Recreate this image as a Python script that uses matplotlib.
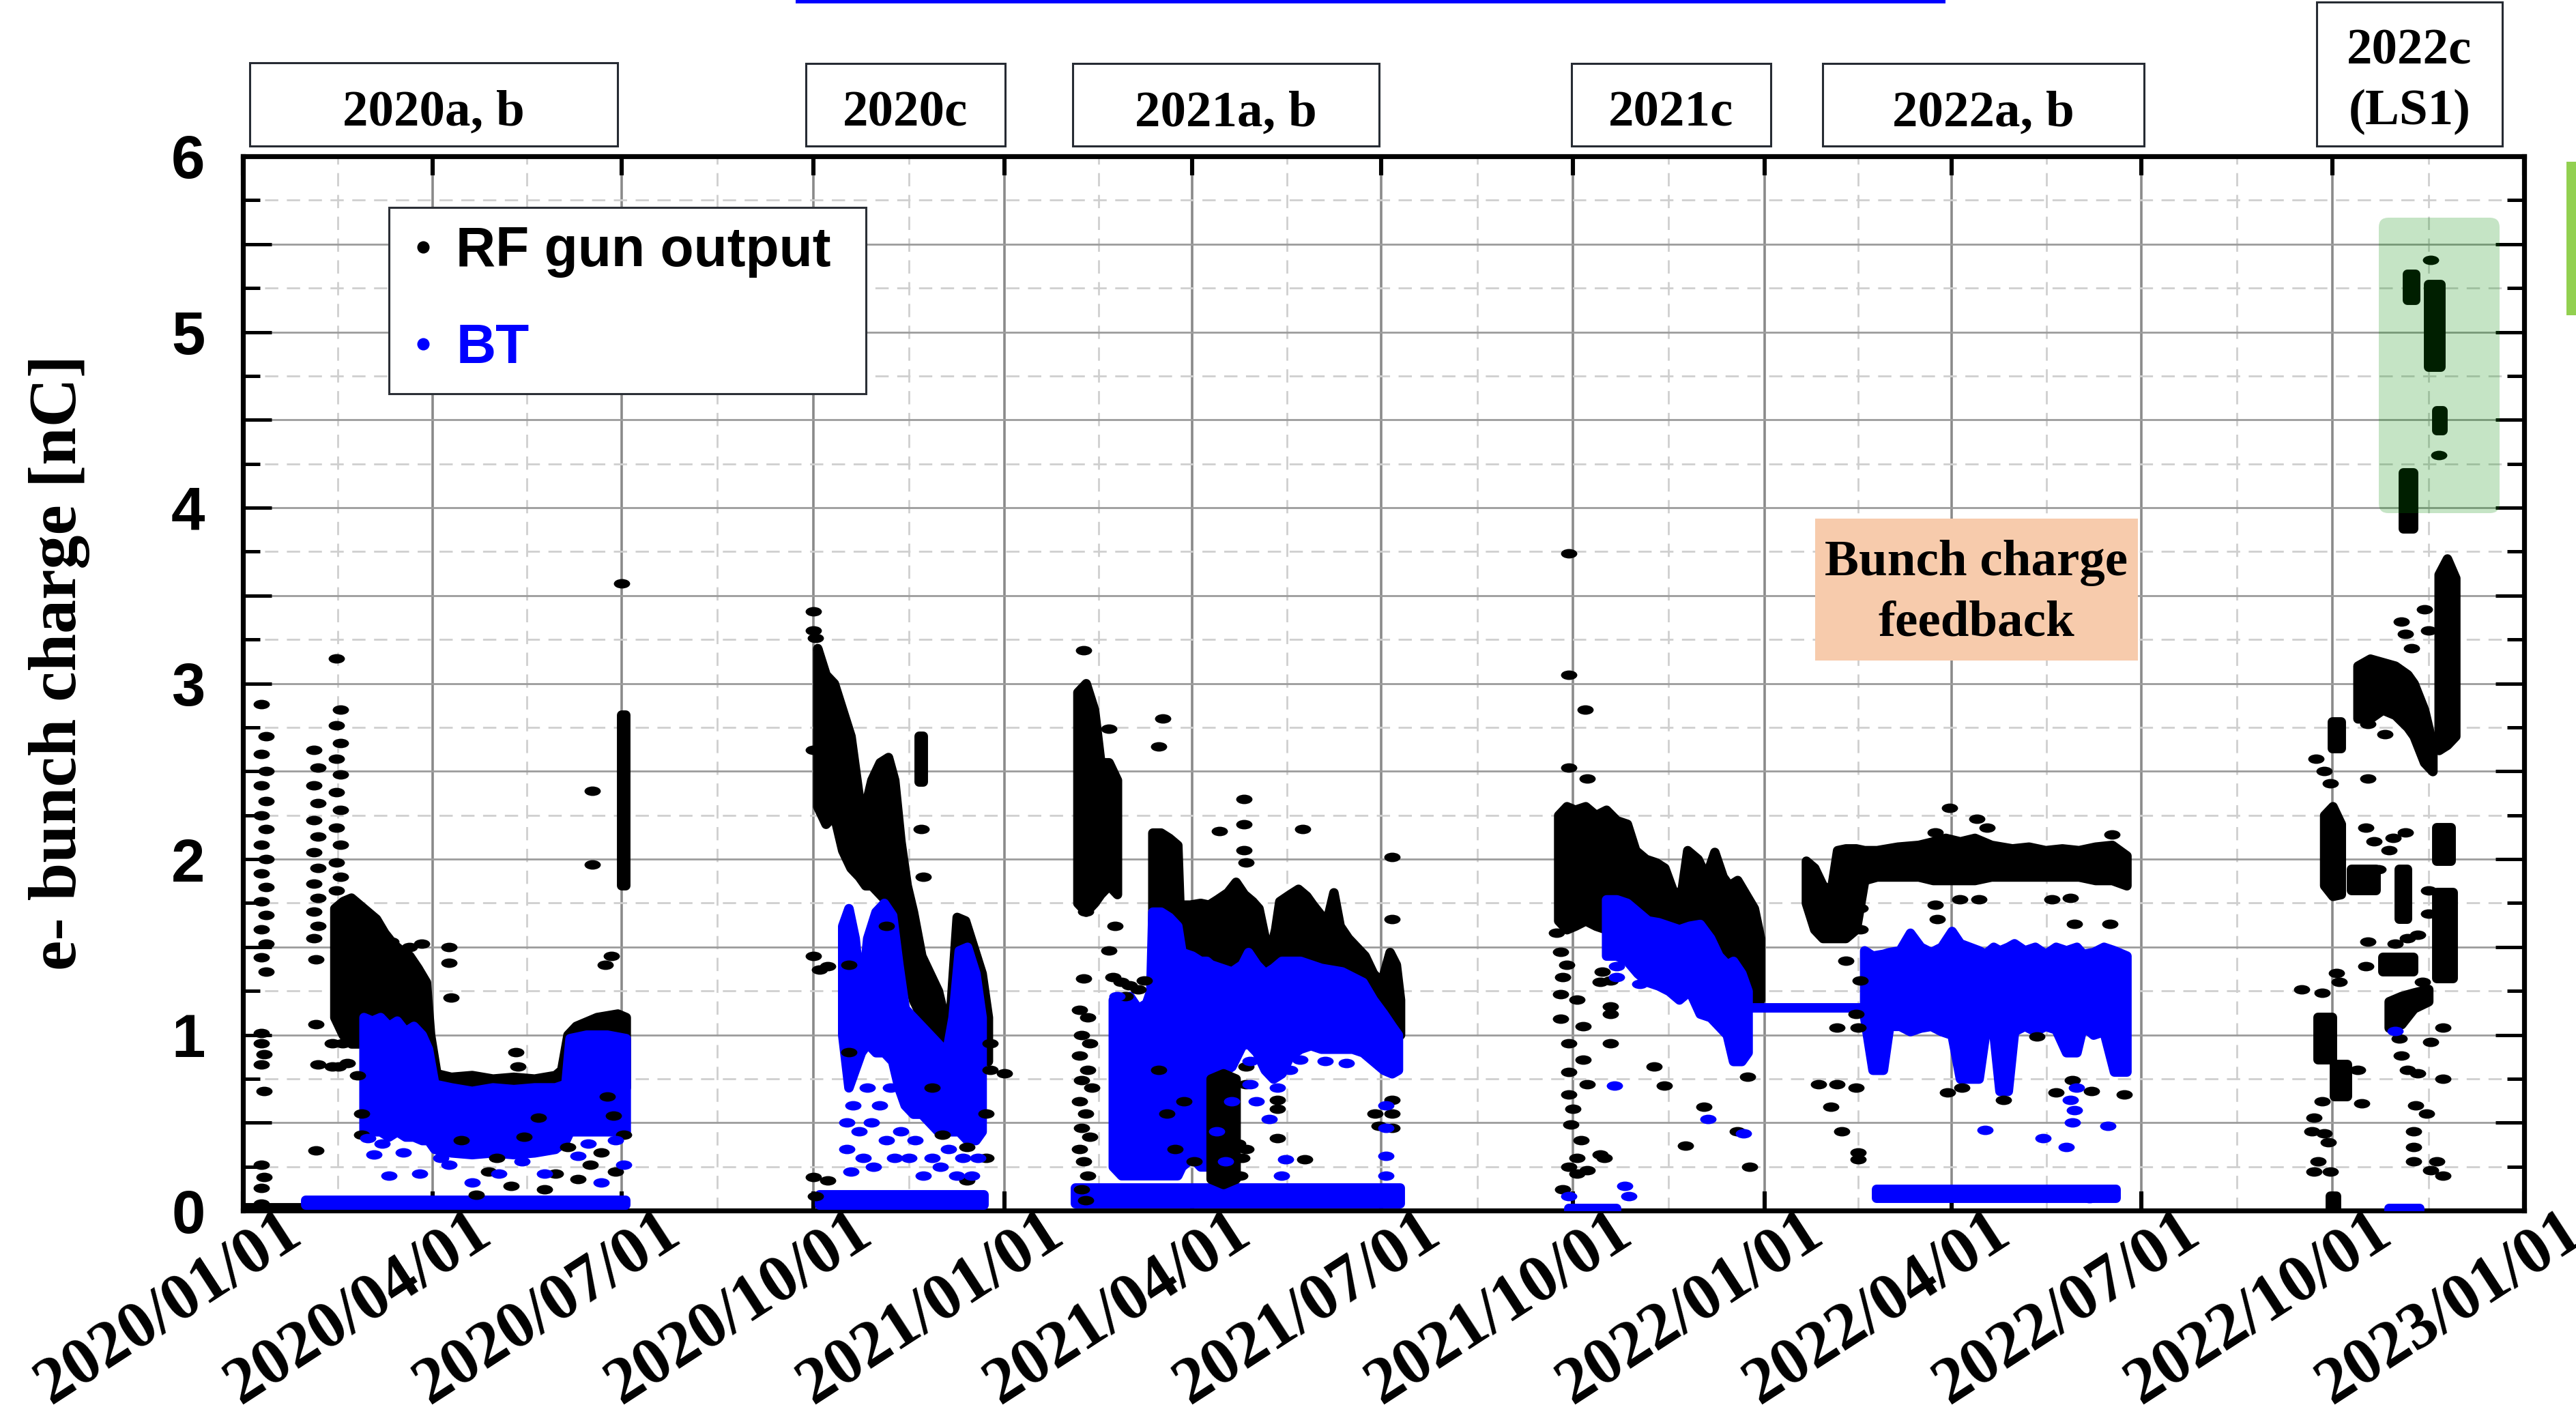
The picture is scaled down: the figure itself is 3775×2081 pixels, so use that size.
import matplotlib
matplotlib.use("Agg")
import matplotlib.pyplot as plt
import matplotlib.dates as mdates
import matplotlib.ticker as mticker
import numpy as np
import pandas as pd
from matplotlib.path import Path
from matplotlib.patches import Rectangle, FancyBboxPatch
from matplotlib.lines import Line2D
from matplotlib.transforms import IdentityTransform, ScaledTranslation

# ---------------------------------------------------------------------------
# Bunch charge history.  Dense regions are stored as (date, lower, upper),
# isolated shots as (date, charge) in nC.
# ---------------------------------------------------------------------------

# RF gun output -------------------------------------------------------------
rf_2020ab_band = [
    ("2020-02-14", 1.10, 1.72), ("2020-02-18", 1.00, 1.76), ("2020-02-22", 0.95, 1.78),
    ("2020-02-26", 0.95, 1.74), ("2020-03-01", 0.95, 1.70), ("2020-03-05", 0.95, 1.66),
    ("2020-03-09", 0.95, 1.58), ("2020-03-13", 0.95, 1.52), ("2020-03-17", 0.95, 1.48),
    ("2020-03-21", 0.95, 1.45), ("2020-03-25", 0.90, 1.38), ("2020-03-29", 0.85, 1.30),
    ("2020-03-31", 0.80, 1.00), ("2020-04-03", 0.55, 0.78), ("2020-04-10", 0.50, 0.76),
    ("2020-04-20", 0.50, 0.77), ("2020-04-30", 0.50, 0.75), ("2020-05-10", 0.50, 0.76),
    ("2020-05-20", 0.50, 0.75), ("2020-05-30", 0.50, 0.77), ("2020-06-02", 0.50, 0.80),
    ("2020-06-05", 0.60, 1.00), ("2020-06-09", 0.70, 1.05), ("2020-06-19", 0.70, 1.10),
    ("2020-06-29", 0.70, 1.12), ("2020-07-03", 0.70, 1.10),
]
rf_2020_jul_band = [("2020-07-01", 1.85, 2.82), ("2020-07-03", 1.85, 2.82)]
rf_2020_floor = [("2020-01-01", 0.0, 0.015), ("2020-01-31", 0.0, 0.015)]
rf_2020c_band = [
    ("2020-10-03", 2.30, 3.20), ("2020-10-07", 2.20, 3.05), ("2020-10-11", 2.25, 3.00),
    ("2020-10-15", 2.05, 2.85), ("2020-10-19", 1.95, 2.70), ("2020-10-23", 1.90, 2.35),
    ("2020-10-26", 1.85, 2.30), ("2020-10-29", 1.85, 2.45), ("2020-11-02", 1.80, 2.55),
    ("2020-11-06", 1.75, 2.58), ("2020-11-09", 1.70, 2.45), ("2020-11-12", 1.50, 2.10),
    ("2020-11-15", 1.35, 1.85), ("2020-11-18", 1.20, 1.70), ("2020-11-22", 1.10, 1.45),
    ("2020-11-26", 1.00, 1.35), ("2020-11-30", 0.95, 1.25), ("2020-12-03", 0.90, 1.10),
    ("2020-12-06", 0.90, 1.15), ("2020-12-09", 1.00, 1.67), ("2020-12-13", 0.95, 1.65),
    ("2020-12-17", 0.95, 1.50), ("2020-12-21", 0.90, 1.35), ("2020-12-24", 0.85, 1.10),
]
rf_2020c_column = [("2020-11-21", 2.44, 2.70), ("2020-11-23", 2.44, 2.70)]
rf_2021ab_feb = [
    ("2021-02-05", 1.75, 2.95), ("2021-02-09", 1.70, 3.00), ("2021-02-13", 1.75, 2.85),
    ("2021-02-16", 1.80, 2.55), ("2021-02-20", 1.85, 2.55), ("2021-02-24", 1.80, 2.45),
]
rf_2021ab_band = [
    ("2021-03-13", 1.30, 2.15), ("2021-03-17", 1.30, 2.15), ("2021-03-21", 1.30, 2.12),
    ("2021-03-25", 1.30, 2.08), ("2021-03-26", 1.30, 1.74), ("2021-03-31", 1.30, 1.74),
    ("2021-04-05", 1.30, 1.75), ("2021-04-09", 1.30, 1.74), ("2021-04-13", 1.30, 1.77),
    ("2021-04-18", 1.30, 1.81), ("2021-04-22", 1.30, 1.87), ("2021-04-26", 1.30, 1.80),
    ("2021-04-30", 1.30, 1.76), ("2021-05-03", 1.30, 1.72), ("2021-05-06", 1.30, 1.55),
    ("2021-05-09", 1.30, 1.50), ("2021-05-11", 1.30, 1.60), ("2021-05-13", 1.30, 1.76),
    ("2021-05-18", 1.30, 1.80), ("2021-05-22", 1.30, 1.83), ("2021-05-26", 1.30, 1.79),
    ("2021-05-29", 1.30, 1.74), ("2021-06-02", 1.30, 1.68), ("2021-06-05", 1.30, 1.66),
    ("2021-06-08", 1.30, 1.81), ("2021-06-11", 1.25, 1.62), ("2021-06-15", 1.20, 1.55),
    ("2021-06-19", 1.15, 1.50), ("2021-06-23", 1.10, 1.45), ("2021-06-27", 1.05, 1.35),
    ("2021-07-01", 1.00, 1.30), ("2021-07-05", 1.00, 1.47), ("2021-07-08", 1.00, 1.40),
    ("2021-07-10", 1.00, 1.20),
]
rf_2021ab_low = [("2021-04-10", 0.18, 0.75), ("2021-04-16", 0.15, 0.78), ("2021-04-22", 0.18, 0.75)]
rf_2021c_band = [
    ("2021-09-24", 1.65, 2.25), ("2021-09-28", 1.60, 2.30), ("2021-10-02", 1.62, 2.28),
    ("2021-10-07", 1.65, 2.30), ("2021-10-12", 1.62, 2.25), ("2021-10-17", 1.60, 2.28),
    ("2021-10-22", 1.60, 2.22), ("2021-10-27", 1.62, 2.20), ("2021-10-31", 1.60, 2.05),
    ("2021-11-05", 1.60, 2.00), ("2021-11-10", 1.55, 1.98), ("2021-11-14", 1.55, 1.95),
    ("2021-11-18", 1.55, 1.82), ("2021-11-22", 1.55, 1.80), ("2021-11-25", 1.60, 2.05),
    ("2021-11-30", 1.55, 2.00), ("2021-12-04", 1.50, 1.90), ("2021-12-08", 1.45, 2.04),
    ("2021-12-12", 1.35, 1.90), ("2021-12-15", 1.30, 1.85), ("2021-12-19", 1.25, 1.88),
    ("2021-12-23", 1.20, 1.80), ("2021-12-27", 1.20, 1.72), ("2021-12-30", 1.20, 1.55),
]
rf_2022ab_band = [
    ("2022-01-21", 1.75, 1.99), ("2022-01-25", 1.60, 1.95), ("2022-01-29", 1.55, 1.85),
    ("2022-02-02", 1.55, 1.82), ("2022-02-05", 1.55, 2.05), ("2022-02-09", 1.55, 2.06),
    ("2022-02-14", 1.60, 2.06), ("2022-02-18", 1.88, 2.05), ("2022-02-24", 1.90, 2.05),
    ("2022-03-06", 1.90, 2.07), ("2022-03-16", 1.90, 2.08), ("2022-03-23", 1.88, 2.10),
    ("2022-03-29", 1.88, 2.12), ("2022-04-05", 1.88, 2.10), ("2022-04-12", 1.88, 2.12),
    ("2022-04-20", 1.90, 2.08), ("2022-04-30", 1.90, 2.06), ("2022-05-08", 1.90, 2.07),
    ("2022-05-16", 1.90, 2.05), ("2022-05-24", 1.90, 2.06), ("2022-06-01", 1.90, 2.05),
    ("2022-06-09", 1.88, 2.07), ("2022-06-17", 1.88, 2.08), ("2022-06-24", 1.85, 2.02),
]
rf_2022c_clusters = [
    [("2022-09-24", 0.86, 1.10), ("2022-10-01", 0.86, 1.10)],
    [("2022-09-27", 1.85, 2.25), ("2022-10-01", 1.79, 2.30), ("2022-10-05", 1.80, 2.20)],
    [("2022-10-01", 2.63, 2.78), ("2022-10-05", 2.63, 2.78)],
    [("2022-10-13", 2.80, 3.10), ("2022-10-19", 2.80, 3.14), ("2022-10-25", 2.85, 3.12),
     ("2022-10-31", 2.82, 3.10), ("2022-11-06", 2.75, 3.05), ("2022-11-09", 2.70, 3.00),
     ("2022-11-14", 2.55, 2.85), ("2022-11-18", 2.50, 2.65)],
    [("2022-11-21", 2.62, 3.62), ("2022-11-25", 2.65, 3.71), ("2022-11-29", 2.70, 3.60)],
    [("2022-11-20", 1.32, 1.81), ("2022-11-28", 1.32, 1.81)],
    [("2022-11-20", 1.99, 2.18), ("2022-11-27", 1.99, 2.18)],
    [("2022-11-02", 1.66, 1.94), ("2022-11-06", 1.66, 1.94)],
    [("2022-10-28", 1.04, 1.19), ("2022-11-03", 1.06, 1.22), ("2022-11-09", 1.15, 1.24),
     ("2022-11-16", 1.19, 1.26)],
    [("2022-10-10", 1.82, 1.94), ("2022-10-22", 1.82, 1.94)],
    [("2022-10-25", 1.36, 1.44), ("2022-11-09", 1.36, 1.44)],
    [("2022-10-02", 0.65, 0.83), ("2022-10-08", 0.65, 0.83)],
    [("2022-09-30", 0.00, 0.08), ("2022-10-03", 0.00, 0.08)],
    [("2022-11-06", 5.18, 5.33), ("2022-11-10", 5.18, 5.33)],
    [("2022-11-16", 4.80, 5.27), ("2022-11-22", 4.80, 5.27)],
    [("2022-11-20", 4.44, 4.55), ("2022-11-23", 4.44, 4.55)],
    [("2022-11-04", 3.88, 4.20), ("2022-11-09", 3.88, 4.20)],
]

rf_2020_points = [
    ("2020-01-10", 2.88), ("2020-01-12", 2.70), ("2020-01-10", 2.60), ("2020-01-12", 2.50),
    ("2020-01-10", 2.42), ("2020-01-12", 2.33), ("2020-01-10", 2.25), ("2020-01-12", 2.17),
    ("2020-01-10", 2.08), ("2020-01-12", 2.00), ("2020-01-10", 1.92), ("2020-01-12", 1.84),
    ("2020-01-10", 1.76), ("2020-01-12", 1.68), ("2020-01-10", 1.60), ("2020-01-12", 1.52),
    ("2020-01-10", 1.44), ("2020-01-12", 1.36), ("2020-01-10", 1.01), ("2020-01-10", 0.95),
    ("2020-01-11", 0.89), ("2020-01-10", 0.83), ("2020-01-11", 0.68), ("2020-01-10", 0.26),
    ("2020-01-11", 0.19), ("2020-01-10", 0.13), ("2020-01-10", 0.04),
    ("2020-02-04", 2.62), ("2020-02-06", 2.52), ("2020-02-04", 2.42), ("2020-02-06", 2.32),
    ("2020-02-04", 2.22), ("2020-02-06", 2.13), ("2020-02-04", 2.04), ("2020-02-06", 1.95),
    ("2020-02-04", 1.86), ("2020-02-06", 1.78), ("2020-02-04", 1.70), ("2020-02-06", 1.62),
    ("2020-02-04", 1.55), ("2020-02-05", 1.43), ("2020-02-05", 1.06), ("2020-02-06", 0.83),
    ("2020-02-05", 0.34),
    ("2020-02-15", 3.14), ("2020-02-17", 2.85), ("2020-02-15", 2.76), ("2020-02-17", 2.66),
    ("2020-02-15", 2.57), ("2020-02-17", 2.48), ("2020-02-15", 2.38), ("2020-02-17", 2.28),
    ("2020-02-15", 2.18), ("2020-02-17", 2.08), ("2020-02-15", 1.98), ("2020-02-17", 1.90),
    ("2020-02-15", 1.82), ("2020-02-16", 0.82), ("2020-02-18", 0.95), ("2020-02-20", 0.84),
    ("2020-02-25", 0.77), ("2020-02-13", 0.95), ("2020-02-13", 0.82),
    ("2020-03-12", 1.53), ("2020-03-21", 1.50), ("2020-03-27", 1.52), ("2020-04-09", 1.50),
    ("2020-04-09", 1.41), ("2020-04-10", 1.21), ("2020-02-27", 0.55), ("2020-02-27", 0.43),
    ("2020-05-11", 0.90), ("2020-05-12", 0.82), ("2020-06-17", 2.39), ("2020-06-17", 1.97),
    ("2020-06-23", 1.40), ("2020-06-26", 1.45), ("2020-07-01", 3.57),
    ("2020-05-09", 0.14), ("2020-05-30", 0.21), ("2020-06-16", 0.26), ("2020-06-21", 0.33),
    ("2020-06-05", 0.36), ("2020-07-02", 0.43), ("2020-04-22", 0.09), ("2020-05-22", 0.53),
    ("2020-06-27", 0.54), ("2020-05-02", 0.30), ("2020-04-15", 0.40), ("2020-05-25", 0.12),
    ("2020-06-10", 0.18), ("2020-06-28", 0.22), ("2020-04-28", 0.22), ("2020-05-15", 0.42),
    ("2020-06-24", 0.65),
    ("2020-10-01", 3.41), ("2020-10-01", 3.30), ("2020-10-02", 3.26), ("2020-10-01", 2.62),
    ("2020-10-01", 1.45), ("2020-10-08", 1.39), ("2020-10-18", 1.40), ("2020-10-18", 0.90),
    ("2020-10-01", 0.19), ("2020-10-02", 0.08), ("2020-11-22", 2.17), ("2020-11-23", 1.90),
    ("2021-01-01", 0.78), ("2020-12-02", 0.43), ("2020-12-14", 0.36), ("2020-12-14", 0.17),
    ("2020-12-23", 0.55), ("2020-12-23", 0.30), ("2020-10-04", 1.37), ("2020-10-08", 0.17),
    ("2020-12-25", 0.95), ("2020-12-25", 0.80), ("2020-11-05", 1.62), ("2020-11-27", 0.70),
]
rf_2021_points = [
    ("2021-02-06", 1.14), ("2021-02-10", 1.10), ("2021-02-07", 1.00), ("2021-02-11", 0.95),
    ("2021-02-06", 0.88), ("2021-02-10", 0.80), ("2021-02-07", 0.74), ("2021-02-12", 0.70),
    ("2021-02-06", 0.62), ("2021-02-09", 0.55), ("2021-02-07", 0.47), ("2021-02-11", 0.42),
    ("2021-02-06", 0.35), ("2021-02-08", 0.28), ("2021-02-10", 0.20), ("2021-02-07", 0.12),
    ("2021-02-09", 0.06),
    ("2021-02-08", 3.19), ("2021-03-18", 2.80), ("2021-03-16", 2.64), ("2021-04-14", 2.16),
    ("2021-05-24", 2.17), ("2021-07-06", 2.01), ("2021-07-06", 1.66), ("2021-02-20", 2.74),
    ("2021-02-23", 1.62), ("2021-02-20", 1.48), ("2021-02-08", 1.32), ("2021-02-09", 1.70),
    ("2021-04-26", 2.34), ("2021-04-26", 2.20), ("2021-04-26", 2.05), ("2021-04-27", 1.98),
    ("2021-02-22", 1.33), ("2021-02-26", 1.30), ("2021-03-02", 1.28), ("2021-03-06", 1.26),
    ("2021-03-09", 1.31), ("2021-02-28", 1.22),
    ("2021-04-27", 0.82), ("2021-04-27", 0.72), ("2021-05-12", 0.63), ("2021-05-12", 0.58),
    ("2021-05-12", 0.41), ("2021-05-25", 0.29), ("2021-06-28", 0.55), ("2021-07-06", 0.63),
    ("2021-07-06", 0.55), ("2021-07-06", 0.47), ("2021-04-23", 0.38), ("2021-04-25", 0.30),
    ("2021-04-24", 0.20), ("2021-04-27", 0.35), ("2021-06-30", 0.48),
    ("2021-03-20", 0.55), ("2021-03-24", 0.35), ("2021-03-28", 0.62), ("2021-04-02", 0.28),
    ("2021-03-16", 0.80),
    ("2021-09-29", 3.74), ("2021-09-29", 3.05), ("2021-10-07", 2.85), ("2021-09-29", 2.52),
    ("2021-10-08", 2.46), ("2021-09-25", 1.47), ("2021-09-26", 1.33), ("2021-09-25", 1.23),
    ("2021-09-25", 1.09), ("2021-09-29", 0.95), ("2021-09-29", 0.79), ("2021-09-29", 0.66),
    ("2021-09-30", 0.49), ("2021-10-03", 0.30), ("2021-09-29", 0.25), ("2021-10-03", 0.21),
    ("2021-10-08", 0.23), ("2021-10-19", 1.31), ("2021-10-19", 1.12), ("2021-10-19", 0.95),
    ("2021-10-16", 0.30), ("2021-11-09", 0.82), ("2021-11-14", 0.71), ("2021-11-24", 0.37),
    ("2021-12-03", 0.59), ("2021-12-24", 0.76), ("2021-12-25", 0.25), ("2021-12-19", 0.45),
    ("2021-10-15", 1.36), ("2021-09-23", 1.58), ("2021-09-28", 1.40), ("2021-10-03", 1.20),
    ("2021-10-06", 1.05), ("2021-10-01", 0.58), ("2021-10-05", 0.40), ("2021-09-26", 0.12),
    ("2021-10-06", 0.86), ("2021-10-08", 0.72), ("2021-10-14", 0.32), ("2021-10-14", 1.30),
    ("2021-10-19", 1.16),
]
rf_2022_points = [
    ("2022-03-31", 2.29), ("2022-04-13", 2.23), ("2022-04-18", 2.18), ("2022-06-17", 2.14),
    ("2022-03-24", 2.15), ("2022-02-09", 1.42), ("2022-02-16", 1.31), ("2022-02-14", 1.12),
    ("2022-02-05", 1.04), ("2022-02-15", 1.04), ("2022-01-27", 0.72), ("2022-02-05", 0.72),
    ("2022-02-14", 0.70), ("2022-02-02", 0.59), ("2022-02-07", 0.45), ("2022-02-15", 0.33),
    ("2022-02-15", 0.29), ("2022-03-24", 1.74), ("2022-03-25", 1.66), ("2022-03-30", 0.67),
    ("2022-04-06", 0.70), ("2022-04-26", 0.63), ("2022-05-12", 0.99), ("2022-05-21", 0.67),
    ("2022-05-30", 1.63), ("2022-06-07", 0.68), ("2022-06-16", 1.63), ("2022-06-23", 0.66),
    ("2022-05-29", 0.74), ("2022-04-05", 1.77), ("2022-05-28", 1.78), ("2022-04-14", 1.77),
    ("2022-05-19", 1.77), ("2022-02-11", 1.78), ("2022-02-16", 1.72), ("2022-02-16", 1.60),
    ("2022-09-16", 1.26), ("2022-09-26", 1.24), ("2022-09-26", 0.62), ("2022-09-22", 0.53),
    ("2022-09-21", 0.45), ("2022-09-27", 0.44), ("2022-09-29", 0.39), ("2022-09-24", 0.28),
    ("2022-09-22", 0.22), ("2022-09-30", 0.22), ("2022-09-23", 2.57), ("2022-09-27", 2.50),
    ("2022-09-30", 2.43), ("2022-10-18", 2.46), ("2022-10-13", 0.80), ("2022-10-15", 0.61),
    ("2022-10-18", 1.53), ("2022-10-17", 1.39), ("2022-10-26", 2.71), ("2022-10-18", 2.77),
    ("2022-11-03", 3.35), ("2022-11-05", 3.28), ("2022-11-08", 3.20), ("2022-11-14", 3.42),
    ("2022-11-16", 3.30), ("2022-11-09", 0.45), ("2022-11-09", 0.36), ("2022-11-09", 0.28),
    ("2022-11-17", 0.23), ("2022-11-23", 0.20), ("2022-11-20", 0.28), ("2022-11-23", 1.04),
    ("2022-11-23", 0.75), ("2022-11-17", 0.96), ("2022-11-13", 1.30), ("2022-11-03", 0.88),
    ("2022-11-06", 0.80), ("2022-11-11", 0.78), ("2022-11-10", 0.60), ("2022-11-15", 0.55),
    ("2022-11-02", 0.98), ("2022-10-27", 1.40), ("2022-10-31", 1.52), ("2022-11-06", 1.55),
    ("2022-11-11", 1.57), ("2022-11-16", 1.82), ("2022-11-16", 1.69), ("2022-10-23", 1.94),
    ("2022-10-30", 2.12), ("2022-11-05", 2.15), ("2022-10-28", 2.05), ("2022-10-17", 2.18),
    ("2022-10-21", 2.10), ("2022-10-03", 1.35), ("2022-10-04", 1.30), ("2022-11-17", 5.41),
    ("2022-11-21", 4.30),
]

# Beam transport (BT) -------------------------------------------------------
bt_2020ab_band = [
    ("2020-02-28", 0.45, 1.10), ("2020-03-03", 0.45, 1.08), ("2020-03-07", 0.45, 1.10),
    ("2020-03-11", 0.42, 1.05), ("2020-03-15", 0.45, 1.08), ("2020-03-19", 0.42, 1.02),
    ("2020-03-23", 0.42, 1.05), ("2020-03-27", 0.40, 1.00), ("2020-03-30", 0.40, 0.92),
    ("2020-04-02", 0.35, 0.72), ("2020-04-10", 0.33, 0.70), ("2020-04-20", 0.32, 0.68),
    ("2020-04-30", 0.33, 0.70), ("2020-05-10", 0.32, 0.69), ("2020-05-20", 0.33, 0.70),
    ("2020-05-30", 0.35, 0.70), ("2020-06-04", 0.40, 0.72), ("2020-06-06", 0.45, 0.98),
    ("2020-06-14", 0.45, 1.00), ("2020-06-24", 0.45, 1.00), ("2020-07-03", 0.45, 0.98),
]
bt_2020c_band = [
    ("2020-10-15", 1.00, 1.62), ("2020-10-18", 0.70, 1.72), ("2020-10-21", 0.80, 1.55),
    ("2020-10-24", 0.90, 1.20), ("2020-10-27", 0.95, 1.55), ("2020-10-31", 0.90, 1.70),
    ("2020-11-04", 0.90, 1.75), ("2020-11-08", 0.85, 1.68), ("2020-11-11", 0.70, 1.40),
    ("2020-11-14", 0.60, 1.15), ("2020-11-18", 0.55, 1.10), ("2020-11-22", 0.55, 1.05),
    ("2020-11-26", 0.50, 1.00), ("2020-11-30", 0.45, 0.95), ("2020-12-04", 0.45, 0.90),
    ("2020-12-07", 0.45, 1.10), ("2020-12-10", 0.45, 1.48), ("2020-12-14", 0.40, 1.50),
    ("2020-12-18", 0.40, 1.35), ("2020-12-21", 0.45, 1.10),
]
bt_2021ab_band = [
    ("2021-02-22", 0.25, 1.20), ("2021-02-26", 0.20, 1.18), ("2021-03-02", 0.20, 1.22),
    ("2021-03-06", 0.20, 1.15), ("2021-03-10", 0.20, 1.18), ("2021-03-12", 0.20, 1.25),
    ("2021-03-13", 0.20, 1.70), ("2021-03-17", 0.20, 1.70), ("2021-03-21", 0.20, 1.67),
    ("2021-03-25", 0.20, 1.62), ("2021-03-27", 0.25, 1.47), ("2021-04-01", 0.30, 1.45),
    ("2021-04-05", 0.25, 1.42), ("2021-04-08", 0.25, 1.42), ("2021-04-10", 0.80, 1.40),
    ("2021-04-15", 0.78, 1.38), ("2021-04-20", 0.82, 1.36), ("2021-04-25", 0.94, 1.40),
    ("2021-04-28", 0.95, 1.47), ("2021-05-02", 0.90, 1.40), ("2021-05-06", 0.80, 1.35),
    ("2021-05-10", 0.75, 1.38), ("2021-05-14", 0.78, 1.42), ("2021-05-18", 0.88, 1.42),
    ("2021-05-23", 0.92, 1.42), ("2021-05-28", 0.94, 1.40), ("2021-06-02", 0.92, 1.38),
    ("2021-06-07", 0.92, 1.37), ("2021-06-12", 0.92, 1.36), ("2021-06-17", 0.92, 1.33),
    ("2021-06-22", 0.90, 1.30), ("2021-06-27", 0.85, 1.20), ("2021-07-02", 0.80, 1.12),
    ("2021-07-06", 0.78, 1.05), ("2021-07-09", 0.80, 1.00),
]
bt_2021c_band = [
    ("2021-10-17", 1.45, 1.77), ("2021-10-22", 1.45, 1.77), ("2021-10-27", 1.42, 1.75),
    ("2021-11-01", 1.35, 1.70), ("2021-11-06", 1.30, 1.65), ("2021-11-11", 1.28, 1.64),
    ("2021-11-16", 1.25, 1.62), ("2021-11-21", 1.20, 1.60), ("2021-11-26", 1.25, 1.62),
    ("2021-12-01", 1.12, 1.63), ("2021-12-06", 1.10, 1.55), ("2021-12-10", 1.05, 1.45),
    ("2021-12-14", 1.00, 1.40), ("2021-12-17", 0.85, 1.42), ("2021-12-21", 0.85, 1.35),
    ("2021-12-24", 0.90, 1.25),
]
bt_2022ab_band = [
    ("2022-02-18", 1.10, 1.48), ("2022-02-22", 0.80, 1.45), ("2022-02-27", 0.80, 1.46),
    ("2022-03-02", 1.05, 1.47), ("2022-03-07", 1.05, 1.48), ("2022-03-12", 1.02, 1.58),
    ("2022-03-17", 1.04, 1.50), ("2022-03-22", 1.05, 1.47), ("2022-03-27", 1.02, 1.50),
    ("2022-04-01", 1.00, 1.59), ("2022-04-05", 0.75, 1.52), ("2022-04-14", 0.75, 1.48),
    ("2022-04-17", 1.00, 1.46), ("2022-04-21", 1.02, 1.50), ("2022-04-24", 0.68, 1.48),
    ("2022-04-28", 0.68, 1.50), ("2022-05-01", 1.02, 1.52), ("2022-05-06", 1.05, 1.48),
    ("2022-05-11", 1.02, 1.50), ("2022-05-16", 1.05, 1.46), ("2022-05-21", 1.03, 1.50),
    ("2022-05-26", 0.90, 1.48), ("2022-05-31", 0.90, 1.50), ("2022-06-03", 1.05, 1.46),
    ("2022-06-08", 1.00, 1.47), ("2022-06-13", 1.02, 1.50), ("2022-06-18", 0.79, 1.48),
    ("2022-06-24", 0.79, 1.45),
]
bt_floor_bands = [
    [("2020-01-31", 0.03, 0.06), ("2020-07-03", 0.03, 0.06)],
    [("2020-10-04", 0.03, 0.09), ("2020-12-22", 0.03, 0.09)],
    [("2021-02-04", 0.04, 0.13), ("2021-07-10", 0.04, 0.13)],
    [("2021-09-29", 0.00, 0.012), ("2021-10-22", 0.00, 0.012)],
    [("2022-02-24", 0.07, 0.12), ("2022-06-19", 0.07, 0.12)],
    [("2022-10-28", 0.00, 0.012), ("2022-11-12", 0.00, 0.012)],
]
# charge held constant while the feedback was running without beam
bt_plateau_dates = ["2021-12-24", "2022-02-20"]
bt_plateau_vals = [1.155, 1.155]

bt_points = [
    ("2020-03-01", 0.41), ("2020-03-04", 0.32), ("2020-03-18", 0.33), ("2020-03-11", 0.20),
    ("2020-03-26", 0.21), ("2020-04-09", 0.26), ("2020-04-28", 0.36), ("2020-05-14", 0.28),
    ("2020-05-25", 0.21), ("2020-06-10", 0.31), ("2020-06-21", 0.16), ("2020-07-02", 0.26),
    ("2020-05-28", 0.36), ("2020-04-20", 0.16), ("2020-05-03", 0.21), ("2020-03-08", 0.38),
    ("2020-06-15", 0.38), ("2020-06-28", 0.40), ("2020-04-05", 0.30),
    ("2020-10-17", 0.50), ("2020-10-17", 0.35), ("2020-10-19", 0.22), ("2020-10-20", 0.60),
    ("2020-10-23", 0.45), ("2020-10-25", 0.30), ("2020-10-27", 0.70), ("2020-10-29", 0.50),
    ("2020-10-30", 0.25), ("2020-11-02", 0.60), ("2020-11-05", 0.40), ("2020-11-07", 0.70),
    ("2020-11-09", 0.30), ("2020-11-12", 0.45), ("2020-11-16", 0.30), ("2020-11-19", 0.40),
    ("2020-11-23", 0.20), ("2020-11-27", 0.30), ("2020-12-01", 0.25), ("2020-12-05", 0.35),
    ("2020-12-09", 0.20), ("2020-12-12", 0.30), ("2020-12-16", 0.20), ("2020-12-19", 0.30),
    ("2021-02-24", 1.22), ("2021-04-17", 0.28), ("2021-04-29", 0.72), ("2021-04-29", 0.85),
    ("2021-05-12", 0.70), ("2021-05-16", 0.29), ("2021-05-14", 0.20), ("2021-07-03", 0.60),
    ("2021-07-03", 0.47), ("2021-07-03", 0.31), ("2021-07-03", 0.20), ("2021-05-18", 0.80),
    ("2021-06-04", 0.85), ("2021-06-14", 0.84), ("2021-05-23", 0.86), ("2021-05-02", 0.62),
    ("2021-05-08", 0.52), ("2021-04-13", 0.45), ("2021-04-20", 0.62),
    ("2021-10-22", 1.39), ("2021-10-22", 1.33), ("2021-11-02", 1.29), ("2021-10-21", 0.71),
    ("2021-12-22", 0.44), ("2021-12-05", 0.52), ("2021-09-29", 0.08), ("2021-10-26", 0.14),
    ("2021-10-28", 0.08),
    ("2022-04-17", 0.46), ("2022-05-15", 0.41), ("2022-05-26", 0.36), ("2022-05-28", 0.63),
    ("2022-05-30", 0.57), ("2022-06-15", 0.48), ("2022-06-09", 0.08), ("2022-06-06", 0.07),
    ("2022-05-31", 0.70), ("2022-05-29", 0.50), ("2022-10-31", 1.02),
]

quarter_ticks = pd.date_range("2020-01-01", "2023-01-01", freq="QS")
period_names = ["2020a, b", "2020c", "2021a, b", "2021c", "2022a, b", "2022c\n(LS1)"]

# ---------------------------------------------------------------------------
W, H, DPI = 3775, 2081, 200
SERIF = ["Liberation Serif", "DejaVu Serif"]
SANS = ["Liberation Sans", "DejaVu Sans"]
BLACK, BLUE = "#000000", "#0000ff"

fig = plt.figure(figsize=(W / DPI, H / DPI), dpi=DPI)
fig.patch.set_facecolor("white")
ax = fig.add_axes([356 / W, 1 - 1774 / H, (3699 - 356) / W, (1774 - 229) / H])

circ = Path.unit_circle()
dot = Path(circ.vertices * np.array([1.0, 0.58]), circ.codes)
DOT_S = 8.6 ** 2
EDGE = 5.0


def draw_band(rows, color, z):
    d = pd.to_datetime([r[0] for r in rows])
    lo = [r[1] for r in rows]
    hi = [r[2] for r in rows]
    ax.fill_between(d, lo, hi, facecolor=color, edgecolor=color, linewidth=EDGE,
                    joinstyle="round", zorder=z)


def draw_points(rows, color, z):
    d = pd.to_datetime([r[0] for r in rows])
    v = [r[1] for r in rows]
    ax.scatter(d, v, s=DOT_S, marker=dot, color=color, linewidths=0, zorder=z)


for band in [rf_2020ab_band, rf_2020_jul_band, rf_2020_floor, rf_2020c_band,
             rf_2020c_column, rf_2021ab_feb, rf_2021ab_band, rf_2021c_band,
             rf_2022ab_band] + rf_2022c_clusters:
    draw_band(band, BLACK, 2)

for band in [bt_2020ab_band, bt_2020c_band, bt_2021ab_band, bt_2021c_band,
             bt_2022ab_band] + bt_floor_bands:
    draw_band(band, BLUE, 3)
ax.plot(pd.to_datetime(bt_plateau_dates), bt_plateau_vals, color=BLUE, lw=EDGE,
        solid_capstyle="round", zorder=3)

draw_band(rf_2021ab_low, BLACK, 3.5)
draw_points(rf_2020_points + rf_2021_points + rf_2022_points, BLACK, 4)
draw_points(bt_points, BLUE, 4.5)

# axes ----------------------------------------------------------------------
ax.set_xlim(pd.Timestamp("2020-01-01"), pd.Timestamp("2023-01-01"))
ax.set_ylim(0, 6)
ax.set_xticks(quarter_ticks)
mid = [a + (b - a) / 2 for a, b in zip(quarter_ticks[:-1], quarter_ticks[1:])]
ax.set_xticks(mid, minor=True)
ax.xaxis.set_major_formatter(mdates.DateFormatter("%Y/%m/%d"))
ax.yaxis.set_major_locator(mticker.MultipleLocator(0.5))
ax.yaxis.set_minor_locator(mticker.MultipleLocator(0.25))
ax.yaxis.set_major_formatter(mticker.FuncFormatter(
    lambda v, p: f"{int(round(v))}" if abs(v - round(v)) < 1e-6 else ""))

ax.set_axisbelow(True)
ax.xaxis.grid(True, which="major", color="#8a8a8a", lw=1.3, ls="-")
ax.xaxis.grid(True, which="minor", color="#cfcfcf", lw=1.0, ls=(0, (7, 4.5)))
ax.yaxis.grid(True, which="major", color="#9c9c9c", lw=1.0, ls="-")
ax.yaxis.grid(True, which="minor", color="#cfcfcf", lw=1.0, ls=(0, (7, 4.5)))

for s in ax.spines.values():
    s.set_linewidth(2.6)
ax.tick_params(axis="x", which="major", direction="in", top=True, bottom=True,
               length=10, width=2.2, pad=6)
ax.tick_params(axis="x", which="minor", length=0)
ax.tick_params(axis="y", which="major", direction="in", left=True, right=True,
               length=15, width=1.8, pad=20)
ax.tick_params(axis="y", which="minor", direction="in", left=True, right=True,
               length=9, width=1.8)

for lbl in ax.get_yticklabels():
    lbl.set_fontfamily(SANS)
    lbl.set_fontweight("bold")
    lbl.set_fontsize(32)

shift = ScaledTranslation(0.27, 0.15, fig.dpi_scale_trans)
for lbl in ax.get_xticklabels():
    lbl.set_fontfamily(SERIF)
    lbl.set_fontweight("bold")
    lbl.set_fontsize(35)
    lbl.set_rotation(33)
    lbl.set_ha("right")
    lbl.set_va("top")
    lbl.set_rotation_mode("anchor")
    lbl.set_transform(lbl.get_transform() + shift)

fig.text(87 / W, 1 - 971 / H, "e- bunch charge [nC]", rotation=90, ha="center",
         va="center", fontsize=36, fontfamily=SERIF, fontweight="bold")

# legend
handles = [Line2D([], [], ls="none", marker="o", ms=6.5, mfc=BLACK, mec="none"),
           Line2D([], [], ls="none", marker="o", ms=6.5, mfc=BLUE, mec="none")]
lx0 = (570 - 356) / 3343
ly0 = (1774 - 566) / 1545
lg = ax.legend(handles, ["RF gun output", "BT"], loc="upper left",
               bbox_to_anchor=(lx0, ly0, 699 / 3343, 262 / 1545), mode="expand",
               borderaxespad=0, prop=dict(family=SANS, weight="bold", size=29),
               labelcolor=[BLACK, BLUE], frameon=True, fancybox=False,
               edgecolor="#2b2f36", framealpha=1, borderpad=0.34, labelspacing=0.82,
               handlelength=0.57, handletextpad=0.31)
lg.get_frame().set_linewidth(1.1)
lg.set_zorder(10)


# page furniture in pixel coordinates (origin top-left)
def px_rect(x0, y0, x1, y1, **kw):
    r = Rectangle((x0, H - y1), x1 - x0, y1 - y0, transform=IdentityTransform(), **kw)
    fig.add_artist(r)
    return r


period_boxes = [(366, 92, 905, 214), (1181, 93, 1473, 214), (1572, 93, 2021, 214),
                (2303, 93, 2595, 214), (2671, 93, 3142, 214), (3395, 3, 3667, 214)]
for name, (x0, y0, x1, y1) in zip(period_names, period_boxes):
    px_rect(x0, y0, x1, y1, facecolor="white", edgecolor="#262b33", lw=1.1, zorder=6)
    cy = (y0 + y1) / 2 + (11 if "\n" in name else 13)
    fig.text((x0 + x1) / 2 / W, 1 - cy / H, name, ha="center", va="center",
             fontsize=27, fontfamily=SERIF, fontweight="bold", linespacing=1.4, zorder=7)

# feedback note
px_rect(2660, 760, 3133, 968, facecolor="#f7cbac", edgecolor="none", zorder=6)
fig.text(2896 / W, 1 - 869 / H, "Bunch charge\nfeedback", ha="center", va="center",
         fontsize=27, fontfamily=SERIF, fontweight="bold", linespacing=1.4, zorder=7)

# LS1 highlight
hl = FancyBboxPatch((3486, H - 752), 3663 - 3486, 752 - 319,
                    boxstyle="round,pad=0,rounding_size=14", transform=IdentityTransform(),
                    facecolor=(0.0, 0.55, 0.0), alpha=0.227, edgecolor="none", zorder=6)
fig.add_artist(hl)

px_rect(1166, 0, 2851, 5, facecolor=BLUE, edgecolor="none", zorder=6)
px_rect(3761, 237, 3775, 462, facecolor="#92d050", edgecolor="none", zorder=6)

fig.savefig("out.png", dpi=DPI)
